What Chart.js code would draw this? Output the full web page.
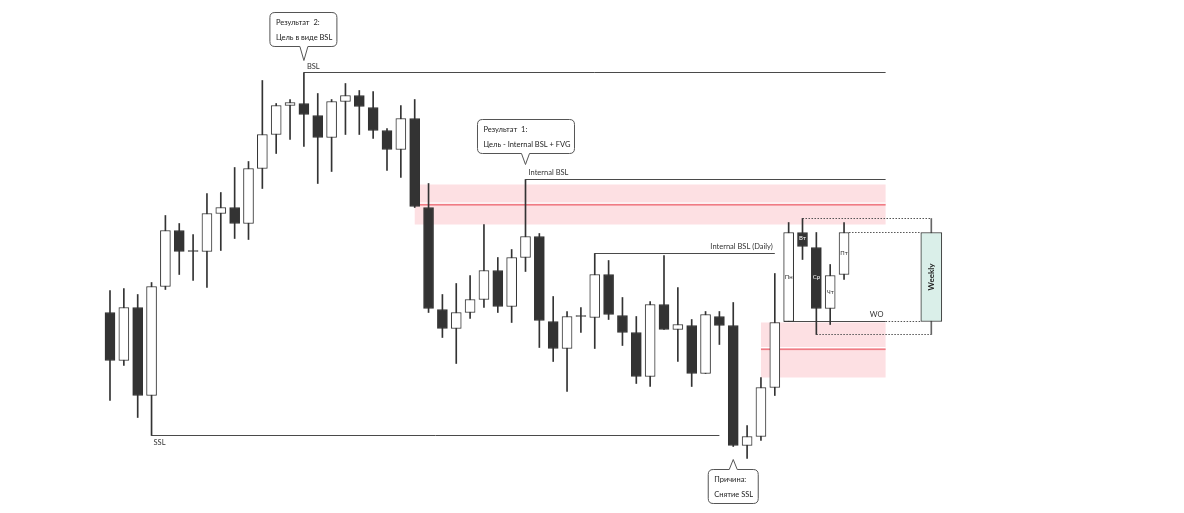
<!DOCTYPE html>
<html lang="ru">
<head>
<meta charset="utf-8">
<title>BSL / SSL</title>
<script src="https://cdn.jsdelivr.net/npm/chart.js@4.4.1/dist/chart.umd.min.js"></script>
<style>
  html, body { margin: 0; padding: 0; background: #fff; }
  #wrap { width: 1184px; height: 513px; }
</style>
</head>
<body>
<div id="wrap"><canvas id="chart"></canvas></div>
<script>
// свечи (индекс = номер бара), цены в условных единицах
const opens  = [188,140,193,105,214,270,249,249,287,293,277,332,366,395,397,385,363,399,405,393,370,351,382,293,191,172,188,201,230,194,243,264,179,152,184,183,226,185,168,124,196,171,175,127,184,175,55,64,113,179,268,253,192,226];
const highs  = [210,212,206,218,285,277,266,307,308,333,339,420,397,401,428,407,401,417,410,409,372,395,401,317,206,217,225,276,243,251,321,267,204,189,193,247,240,203,184,199,245,213,181,189,189,198,75,123,227,278,282,268,236,278];
const lows   = [100,135,83,65,211,226,220,213,250,262,261,312,347,361,354,317,329,366,366,362,330,323,293,188,163,137,182,193,188,178,229,153,139,109,168,152,181,155,117,114,171,139,114,127,156,54,42,60,105,179,241,166,176,221];
const closes = [140,193,105,214,270,249,250,287,293,277,332,366,395,398,386,363,399,405,394,370,351,382,294,192,172,188,201,230,194,243,264,180,152,184,185,226,186,168,124,196,171,176,127,186,175,55,64,113,178,268,254,192,225,268];

// дни недели для последних пяти свечей
const dayNames = ['Пн', 'Вт', 'Ср', 'Чт', 'Пт'];
const dayIndex = [49, 50, 51, 52, 53];

// недельная свеча
const weeklyX = 59.3;
const weeklyOHLC = [179, 282, 166, 268];

// уровни ликвидности
const levelNames  = ['BSL', 'Internal BSL', 'Internal BSL (Daily)', 'SSL', 'WO'];
const levelPrices = [428, 321, 247, 65, 179];
const levelStart  = [14, 30, 35, 3, 48.65];
const levelEnd    = [56, 56, 48, 44, 56];

// зоны FVG
const zoneStart  = [22, 47];
const zoneEnd    = [56, 56];
const zoneTop    = [316, 178];
const zoneBottom = [276, 123];
const zoneMid    = [295.5, 151];

// выноски
const calloutTexts = [['Результат  2:', 'Цель в виде BSL'], ['Результат  1:', 'Цель - Internal BSL + FVG'], ['Причина:', 'Снятие SSL']];
const calloutX = [14, 30, 45];
const calloutY = [440, 336, 41];

const FONT = 'Lato, "Open Sans", sans-serif';
const DARK = '#333333';

const wickData = highs.map((h, i) => ({ x: i, y: [lows[i], h] }));
const bodyData = opens.map((o, i) => ({ x: i, y: [o, closes[i]] }));
// доджи рисуем тёмной чертой
const bodyColors = opens.map((o, i) => Math.abs(closes[i] - o) <= 1 ? DARK : (closes[i] >= o ? '#ffffff' : DARK));

const levelSets = levelNames.map((name, i) => ({
    type: 'line',
    label: name,
    data: [{ x: levelStart[i], y: levelPrices[i] }, { x: levelEnd[i], y: levelPrices[i] }],
    borderColor: '#4a4a4a',
    borderWidth: 1,
    pointRadius: 0,
    order: 3
}));

const wBodyLeft = weeklyX - 0.76;
const dotted = [
    [{ x: 50, y: weeklyOHLC[1] }, { x: weeklyX, y: weeklyOHLC[1] }],
    [{ x: 53.36, y: weeklyOHLC[3] }, { x: wBodyLeft, y: weeklyOHLC[3] }],
    [{ x: 56, y: weeklyOHLC[0] }, { x: wBodyLeft, y: weeklyOHLC[0] }],
    [{ x: 51, y: weeklyOHLC[2] }, { x: weeklyX, y: weeklyOHLC[2] }]
].map(pts => ({
    type: 'line',
    data: pts,
    borderColor: '#555',
    borderWidth: 1,
    borderDash: [1.5, 1.5],
    pointRadius: 0,
    order: 3
}));

function roundCallout(ctx, l, t, r, b, tipX, tipY, up) {
    const rad = 5, hw = 4;
    ctx.beginPath();
    ctx.moveTo(l + rad, t);
    if (up) {
        ctx.lineTo(tipX - hw, t);
        ctx.lineTo(tipX, tipY);
        ctx.lineTo(tipX + hw, t);
    }
    ctx.lineTo(r - rad, t);
    ctx.quadraticCurveTo(r, t, r, t + rad);
    ctx.lineTo(r, b - rad);
    ctx.quadraticCurveTo(r, b, r - rad, b);
    if (!up) {
        ctx.lineTo(tipX + hw, b);
        ctx.lineTo(tipX, tipY);
        ctx.lineTo(tipX - hw, b);
    }
    ctx.lineTo(l + rad, b);
    ctx.quadraticCurveTo(l, b, l, b - rad);
    ctx.lineTo(l, t + rad);
    ctx.quadraticCurveTo(l, t, l + rad, t);
    ctx.closePath();
    ctx.fillStyle = '#fff';
    ctx.fill();
    ctx.strokeStyle = '#555';
    ctx.lineWidth = 1;
    ctx.stroke();
}

const overlay = {
    id: 'overlay',
    beforeDatasetsDraw(chart) {
        const { ctx, scales: { x, y } } = chart;
        ctx.save();
        zoneStart.forEach((s, i) => {
            const x0 = x.getPixelForValue(s), x1 = x.getPixelForValue(zoneEnd[i]);
            const y0 = y.getPixelForValue(zoneTop[i]), y1 = y.getPixelForValue(zoneBottom[i]);
            const ym = y.getPixelForValue(zoneMid[i]);
            ctx.fillStyle = '#fde0e3';
            ctx.fillRect(x0, y0, x1 - x0, y1 - y0);
            ctx.fillStyle = '#ffffff';
            ctx.fillRect(x0, ym - 2.5, x1 - x0, 1);
            ctx.fillStyle = '#f07b84';
            ctx.fillRect(x0, ym - 1, x1 - x0, 1.6);
        });
        ctx.restore();
    },
    afterDatasetsDraw(chart) {
        const { ctx, scales: { x, y } } = chart;
        ctx.save();
        ctx.fillStyle = '#333';
        ctx.font = '7.5px ' + FONT;
        ctx.textBaseline = 'middle';

        // подписи уровней
        const offs = [[3, -6, 'left'], [3, -7, 'left'], [-2, -7, 'right'], [2, 7, 'left'], [-9, -7, 'center']];
        levelNames.forEach((name, i) => {
            const px = i === 4 ? x.getPixelForValue(levelEnd[i]) : x.getPixelForValue(i === 2 ? levelEnd[i] : levelStart[i]);
            ctx.textAlign = offs[i][2];
            ctx.fillText(name, px + offs[i][0], y.getPixelForValue(levelPrices[i]) + offs[i][1]);
        });

        // дни недели внутри тел
        ctx.font = '6px ' + FONT;
        ctx.textAlign = 'center';
        dayNames.forEach((d, k) => {
            const i = dayIndex[k];
            const dark = closes[i] < opens[i];
            const mid = k === 1 ? opens[i] - 2 : k === 2 ? 223 : k === 3 ? 208 : k === 4 ? 247 : 223;
            ctx.fillStyle = dark ? '#fff' : '#333';
            ctx.fillText(d, x.getPixelForValue(i), y.getPixelForValue(mid) + (k === 1 ? 4 : 0));
        });

        // подпись недельной свечи
        ctx.save();
        ctx.translate(x.getPixelForValue(weeklyX), y.getPixelForValue((weeklyOHLC[0] + weeklyOHLC[3]) / 2));
        ctx.rotate(-Math.PI / 2);
        ctx.fillStyle = '#222';
        ctx.font = 'bold 8px ' + FONT;
        ctx.fillText('Weekly', 0, 0);
        ctx.restore();

        // выноски
        const boxes = [[-34, 33, -48, -14], [-48, 49, -45, -11], [-25, 25, 10, 44]];
        calloutTexts.forEach((lines, i) => {
            const tx = x.getPixelForValue(calloutX[i]);
            const ty = y.getPixelForValue(calloutY[i]);
            const [l, r, t, b] = boxes[i];
            const up = t > 0;
            roundCallout(ctx, tx + l, ty + t, tx + r, ty + b, tx, ty, up);
            ctx.fillStyle = '#222';
            ctx.font = '7.5px ' + FONT;
            ctx.textAlign = 'left';
            ctx.fillText(lines[0], tx + l + 6, ty + t + 10.5);
            ctx.fillText(lines[1], tx + l + 6, ty + t + 25);
        });
        ctx.restore();
    }
};

new Chart(document.getElementById('chart'), {
    type: 'bar',
    data: {
        datasets: [
            {
                label: 'Тела',
                data: bodyData,
                backgroundColor: bodyColors,
                borderColor: DARK,
                borderWidth: 1,
                borderSkipped: false,
                barThickness: 10,
                grouped: false,
                order: 0
            },
            {
                label: 'Тени',
                data: wickData,
                backgroundColor: DARK,
                barThickness: 1,
                grouped: false,
                order: 1
            },
            {
                label: 'Weekly',
                data: [{ x: weeklyX, y: [weeklyOHLC[0], weeklyOHLC[3]] }],
                backgroundColor: '#daefe9',
                borderColor: DARK,
                borderWidth: 1,
                borderSkipped: false,
                barThickness: 21,
                grouped: false,
                order: 0
            },
            {
                label: 'Weekly тень',
                data: [{ x: weeklyX, y: [weeklyOHLC[2], weeklyOHLC[1]] }],
                backgroundColor: '#666',
                barThickness: 1,
                grouped: false,
                order: 2
            },
            ...levelSets,
            ...dotted
        ]
    },
    options: {
        responsive: true,
        maintainAspectRatio: false,
        animation: false,
        layout: { padding: 0 },
        scales: {
            x: { type: 'linear', min: -7.942, max: 77.545, offset: false, display: false },
            y: { type: 'linear', min: -12.5, max: 500.5, display: false }
        },
        plugins: {
            legend: { display: false },
            tooltip: { enabled: false }
        }
    },
    plugins: [overlay]
});
</script>
</body>
</html>
